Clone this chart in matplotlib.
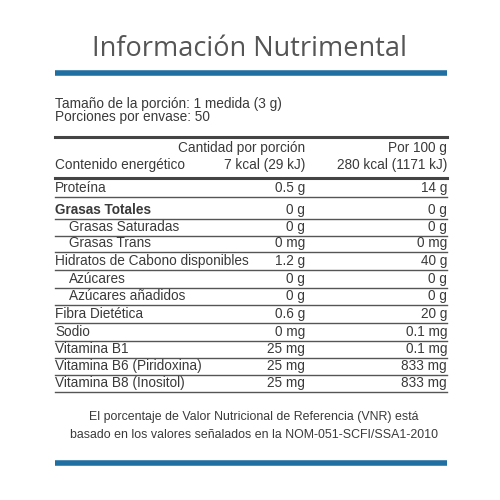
import matplotlib.pyplot as plt

TITLE = 'Información Nutrimental'
SERVING = ['Tamaño de la porción: 1 medida (3 g)', 'Porciones por envase: 50']
HEAD_1 = ['Cantidad por porción', '7 kcal (29 kJ)']
HEAD_2 = ['Por 100 g', '280 kcal (1171 kJ)']
NUTRIENTS = ['Proteína', 'Grasas Totales', 'Grasas Saturadas', 'Grasas Trans',
             'Hidratos de Cabono disponibles', 'Azúcares', 'Azúcares añadidos',
             'Fibra Dietética', 'Sodio', 'Vitamina B1', 'Vitamina B6 (Piridoxina)',
             'Vitamina B8 (Inositol)']
INDENT = [False, False, True, True, False, True, True, False, False, False, False, False]
BOLD = [False, True] + [False] * 10
PER_SERVING = ['0.5 g', '0 g', '0 g', '0 mg', '1.2 g', '0 g', '0 g', '0.6 g',
               '0 mg', '25 mg', '25 mg', '25 mg']
PER_100G = ['14 g', '0 g', '0 g', '0 mg', '40 g', '0 g', '0 g', '20 g',
            '0.1 mg', '0.1 mg', '833 mg', '833 mg']
FOOTNOTE = ['El porcentaje de Valor Nutricional de Referencia (VNR) está',
            'basado en los valores señalados en la NOM-051-SCFI/SSA1-2010']

ROW_Y = [188, 210, 227, 243, 261, 279, 296, 314, 332, 349, 366, 383]
BLUE = '#1f6fa3'
TXT = '#3a3a3a'
FAM = ['Liberation Sans', 'DejaVu Sans']
FS = 9.8

fig = plt.figure(figsize=(5, 5), dpi=100)
ax = fig.add_axes([0, 0, 1, 1])
ax.set_xlim(0, 500)
ax.set_ylim(500, 0)
ax.axis('off')

L, C1, C2 = 55, 305, 447

ax.text(250, 49, TITLE, ha='center', va='center', fontsize=19.5, color='#555555',
        family=['Open Sans', 'DejaVu Sans'])
ax.plot([L, C2], [73, 73], color=BLUE, lw=4, solid_capstyle='butt')
ax.plot([L, C2], [463, 463], color=BLUE, lw=4, solid_capstyle='butt')

for i, s in enumerate(SERVING):
    ax.text(L, 104 + i * 13, s, va='center', fontsize=FS, color=TXT, family=FAM)
ax.plot([L, C2], [137, 137], color='#444444', lw=2.2)
ax.text(C1, 148, HEAD_1[0], ha='right', va='center', fontsize=FS, color=TXT, family=FAM)
ax.text(C1, 165, HEAD_1[1], ha='right', va='center', fontsize=FS, color=TXT, family=FAM)
ax.text(C2, 148, HEAD_2[0], ha='right', va='center', fontsize=FS, color=TXT, family=FAM)
ax.text(C2, 165, HEAD_2[1], ha='right', va='center', fontsize=FS, color=TXT, family=FAM)
ax.text(L, 165, 'Contenido energético', va='center', fontsize=FS, color=TXT, family=FAM)
ax.plot([L, C2], [178, 178], color='#444444', lw=2.2)

for i, name in enumerate(NUTRIENTS):
    y = ROW_Y[i]
    ax.text(L + (14 if INDENT[i] else 0), y, name, va='center', fontsize=FS, color=TXT,
            family=FAM, fontweight='bold' if BOLD[i] else 'normal')
    ax.text(C1, y, PER_SERVING[i], ha='right', va='center', fontsize=FS, color=TXT, family=FAM)
    ax.text(C2, y, PER_100G[i], ha='right', va='center', fontsize=FS, color=TXT, family=FAM)
    ax.plot([L, C2], [y + 9, y + 9], color='#555555', lw=1)

for i, s in enumerate(FOOTNOTE):
    ax.text(254, 417 + i * 18, s, ha='center', va='center', fontsize=8.9, color=TXT, family=FAM)

fig.savefig('out.png', dpi=100, facecolor='white')
